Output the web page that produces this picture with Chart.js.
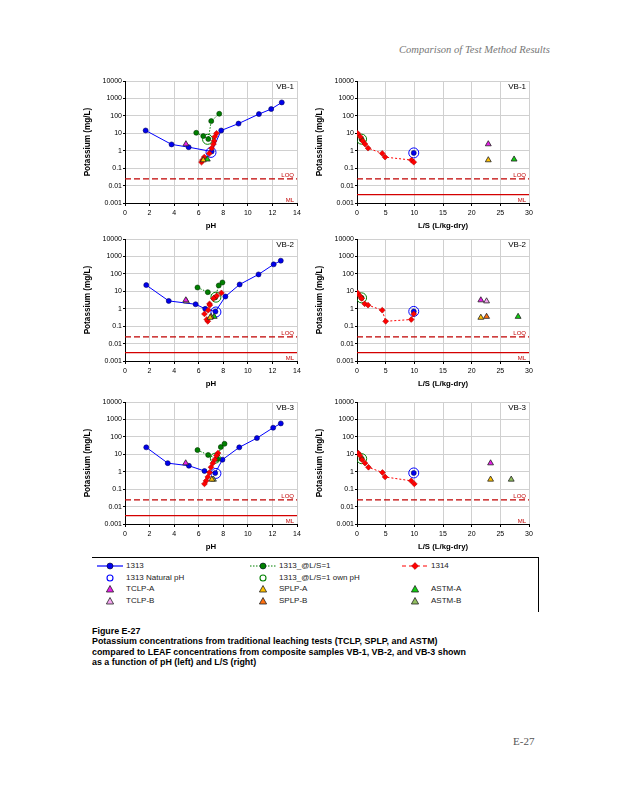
<!DOCTYPE html>
<html>
<head>
<meta charset="utf-8">
<script src="https://cdn.jsdelivr.net/npm/chart.js@4/dist/chart.umd.min.js"></script>
<style>
body { margin: 0; background: #fff; font-family: "Liberation Sans", Arial, sans-serif; }
.page { position: relative; width: 618px; height: 800px; overflow: hidden; }
canvas { position: absolute; }
.hdr { position: absolute; left: 399px; top: 44px; font: italic 10.6px "Liberation Serif", serif; color: #777; }
.leg { position: absolute; left: 92px; top: 557px; width: 446px; height: 54px; border-top: 1px solid #000; border-right: 1px solid #000; }
.li { position: absolute; font-size: 8px; color: #222; line-height: 10px; white-space: nowrap; }
.sym { position: absolute; }
.cap { position: absolute; left: 92px; top: 626px; font-weight: bold; font-size: 8.9px; line-height: 10.4px; color: #000; }
.pg { position: absolute; left: 513px; top: 735px; font: 11px "Liberation Serif", serif; color: #555; }
</style>
</head>
<body>
<div class="page">
  <div class="hdr">Comparison of Test Method Results</div>
  <canvas id="c1" width="225" height="159" style="left:80px;top:72px"></canvas>
  <canvas id="c2" width="225" height="159" style="left:312px;top:72px"></canvas>
  <canvas id="c3" width="225" height="159" style="left:80px;top:230px"></canvas>
  <canvas id="c4" width="225" height="159" style="left:312px;top:230px"></canvas>
  <canvas id="c5" width="225" height="159" style="left:80px;top:393px"></canvas>
  <canvas id="c6" width="225" height="159" style="left:312px;top:393px"></canvas>
  <div class="leg"></div>
  <div id="legend"></div>
  <div class="cap">Figure E-27<br>Potassium concentrations from traditional leaching tests (TCLP, SPLP, and ASTM)<br>compared to LEAF concentrations from composite samples VB-1, VB-2, and VB-3 shown<br>as a function of pH (left) and L/S (right)</div>
  <div class="pg">E-27</div>
</div>
<script>
// axis ticks
const yTickVals = [0.001, 0.01, 0.1, 1, 10, 100, 1000, 10000];
const yTickLabels = ['0.001', '0.01', '0.1', '1', '10', '100', '1000', '10000'];
const LOQ = 0.024, ML = 0.003;

// VB-1
const vb1_1313_pH = [1.68, 3.79, 5.18, 7.05, 7.83, 9.24, 10.9, 11.9, 12.76];
const vb1_1313_K  = [14.5, 2.3, 1.6, 0.9, 14.5, 36, 126, 245, 590];
const vb1_nat = [7.0, 0.8, 9.9, 0.75];          // pH, K, L/S, K
const vb1_ls1_pH = [5.8, 6.37, 6.78, 7.02, 7.67];
const vb1_ls1_K  = [10.7, 6.9, 4.7, 50, 132];
const vb1_own = [6.72, 4.5, 0.8, 4.6];           // pH, K, L/S, K
const vb1_1314_LS = [0.12, 0.58, 1.0, 1.4, 1.93, 4.4, 4.9, 9.5, 9.9];
const vb1_1314_pH = [7.45, 7.3, 7.26, 7.2, 7.05, 6.86, 6.45, 6.3, 6.23];
const vb1_1314_K  = [10, 6.3, 3.6, 2.4, 1.4, 0.7, 0.43, 0.29, 0.22];
const vb1_tri = ['TCLP-A', 'SPLP-A', 'ASTM-A'];
const vb1_tri_pH = [4.96, 6.37, 6.7];
const vb1_tri_LS = [22.9, 22.9, 27.4];
const vb1_tri_K  = [2.4, 0.29, 0.32];

// VB-2
const vb2_1313_pH = [1.73, 3.56, 5.75, 6.53, 7.36, 8.17, 9.33, 10.87, 12.1, 12.68];
const vb2_1313_K  = [22.6, 2.8, 1.8, 0.98, 0.69, 5, 24.6, 93, 350, 570];
const vb2_nat = [7.4, 0.65, 9.9, 0.7];
const vb2_ls1_pH = [5.9, 6.74, 7.34, 7.63, 7.93];
const vb2_ls1_K  = [16.5, 8.9, 4.4, 21.6, 32];
const vb2_own = [7.4, 4.6, 0.8, 4.2];
const vb2_1314_LS = [0.1, 0.5, 0.8, 1.34, 1.93, 4.4, 5.0, 9.46, 9.9];
const vb2_1314_pH = [7.85, 7.47, 7.2, 6.88, 6.9, 6.77, 6.74, 6.66, 6.47];
const vb2_1314_K  = [8.1, 5.5, 3.9, 1.9, 1.6, 0.82, 0.19, 0.24, 0.5];
const vb2_tri = ['TCLP-A', 'TCLP-B', 'SPLP-A', 'SPLP-B', 'ASTM-A'];
const vb2_tri_pH = [4.95, 5.0, 6.93, 7.0, 7.26];
const vb2_tri_LS = [21.6, 22.6, 21.6, 22.6, 28.1];
const vb2_tri_K  = [3.1, 2.7, 0.31, 0.35, 0.35];

// VB-3
const vb3_1313_pH = [1.73, 3.48, 5.2, 6.47, 7.34, 7.93, 9.3, 10.74, 12.06, 12.68];
const vb3_1313_K  = [25, 3.1, 2.2, 1.1, 0.84, 4.9, 25, 85, 335, 590];
const vb3_nat = [7.4, 0.8, 9.9, 0.85];
const vb3_ls1_pH = [5.9, 6.77, 7.52, 7.8, 8.1];
const vb3_ls1_K  = [17.5, 9.1, 5.3, 26, 40];
const vb3_own = [7.35, 6, 0.82, 5.6];
const vb3_1314_LS = [0.23, 0.5, 0.88, 1.4, 2.0, 4.44, 4.9, 9.46, 10];
const vb3_1314_pH = [7.57, 7.45, 7.3, 7.15, 7.0, 6.88, 6.74, 6.6, 6.47];
const vb3_1314_K  = [11.7, 8.6, 4.9, 3.1, 1.8, 0.9, 0.5, 0.3, 0.2];
const vb3_tri = ['TCLP-A', 'SPLP-A', 'ASTM-B'];
const vb3_tri_pH = [4.94, 7.07, 7.2];
const vb3_tri_LS = [23.3, 23.3, 26.9];
const vb3_tri_K  = [3.1, 0.36, 0.36];

const triColors = {
  'TCLP-A': '#e81ee8', 'TCLP-B': '#f4a6f0',
  'SPLP-A': '#ffc000', 'SPLP-B': '#ff7010',
  'ASTM-A': '#10d010', 'ASTM-B': '#92c060'
};

function zip(xs, ys) { return xs.map((x, i) => ({ x: x, y: ys[i] })); }

const labelPlugin = {
  id: 'panelLabels',
  afterDraw(chart) {
    const o = chart.options.plugins.panelLabels;
    const a = chart.chartArea, ctx = chart.ctx, y = chart.scales.y;
    ctx.save();
    ctx.font = '8px "Liberation Sans", Arial';
    const w = ctx.measureText(o.name).width;
    ctx.fillStyle = '#fff';
    ctx.fillRect(a.right - w - 6, a.top + 1, w + 5, 10);
    ctx.fillStyle = '#000';
    ctx.textAlign = 'right'; ctx.textBaseline = 'middle';
    ctx.fillText(o.name, a.right - 3, a.top + 6);
    ctx.font = '6px "Liberation Sans", Arial';
    ctx.fillStyle = '#c00000';
    ctx.fillText('LOQ', a.right - 3, y.getPixelForValue(LOQ) - 4);
    ctx.fillText('ML', a.right - 3, y.getPixelForValue(ML) + 6);
    ctx.restore();
  }
};

function makeChart(id, name, kind, s, showML) {
  const isPH = kind === 'pH';
  const xmax = isPH ? 14 : 30;
  const ds = [];
  s.tri.forEach((t, i) => {
    ds.push({ data: [{ x: isPH ? s.triPH[i] : s.triLS[i], y: s.triK[i] }],
      pointStyle: 'triangle', pointRadius: 3.4, pointBackgroundColor: triColors[t],
      pointBorderColor: '#222', pointBorderWidth: 0.8, showLine: false });
  });
  ds.push({ data: isPH ? zip(s.redPH, s.redK) : zip(s.redLS, s.redK),
    pointStyle: 'rectRot', pointRadius: 2.9, pointBackgroundColor: '#ff0000', pointBorderColor: '#b00000',
    pointBorderWidth: 0.6, showLine: !isPH, borderColor: '#ff0000', borderDash: [2, 2], borderWidth: 1 });
  ds.push({ data: [{ x: isPH ? s.own[0] : s.own[2], y: isPH ? s.own[1] : s.own[3] }],
    pointStyle: 'circle', pointRadius: 5, pointBackgroundColor: 'rgba(0,0,0,0)', pointBorderColor: '#008000',
    pointBorderWidth: 1, showLine: false });
  ds.push({ data: isPH ? zip(s.ls1PH, s.ls1K) : [{ x: s.own[2], y: s.own[3] }],
    pointStyle: 'circle', pointRadius: 2.5,
    pointBackgroundColor: '#008000', pointBorderColor: '#003000', pointBorderWidth: 0.6,
    showLine: isPH, borderColor: '#008000', borderDash: [1.5, 1.5], borderWidth: 1 });
  ds.push({ data: [{ x: isPH ? s.nat[0] : s.nat[2], y: isPH ? s.nat[1] : s.nat[3] }],
    pointStyle: 'circle', pointRadius: 5, pointBackgroundColor: 'rgba(0,0,0,0)', pointBorderColor: '#0000ff',
    pointBorderWidth: 1, showLine: false });
  ds.push({ data: isPH ? zip(s.blPH, s.blK) : [{ x: s.nat[2], y: s.nat[3] }],
    pointStyle: 'circle', pointRadius: 2.5,
    pointBackgroundColor: '#0000ee', pointBorderColor: '#000060', pointBorderWidth: 0.6,
    showLine: isPH, borderColor: '#0000ff', borderWidth: 1 });
  ds.push({ data: [{ x: 0, y: LOQ }, { x: xmax, y: LOQ }], pointRadius: 0, showLine: true,
    borderColor: '#c00000', borderWidth: 1.2, borderDash: [6, 3] });
  if (showML) {
    ds.push({ data: [{ x: 0, y: ML }, { x: xmax, y: ML }], pointRadius: 0, showLine: true,
      borderColor: '#d40000', borderWidth: 1.2 });
  }

  return new Chart(document.getElementById(id), {
    type: 'scatter',
    data: { datasets: ds },
    options: {
      responsive: false, animation: false,
      layout: { padding: { top: 9, right: 8, left: 0, bottom: 0 } },
      plugins: { legend: { display: false }, tooltip: { enabled: false }, panelLabels: { name: name } },
      scales: {
        x: {
          type: 'linear', min: 0, max: xmax,
          ticks: { stepSize: isPH ? 2 : 5, font: { size: 7, family: '"Liberation Sans", Arial' }, color: '#000', padding: 3 },
          grid: { color: '#d0d0d0', tickLength: 3, tickColor: '#000' },
          border: { color: '#000', width: 1 },
          title: { display: true, text: isPH ? 'pH' : 'L/S (L/kg-dry)', font: { size: 7.8, weight: 'bold', family: '"Liberation Sans", Arial' }, color: '#000', padding: 0 },
          afterFit(sc) { sc.height = 28; }
        },
        y: {
          type: 'logarithmic', min: 0.001, max: 10000,
          afterBuildTicks(sc) { sc.ticks = yTickVals.map(v => ({ value: v })); },
          ticks: { callback: (v) => yTickLabels[yTickVals.indexOf(v)] || '', font: { size: 7, family: '"Liberation Sans", Arial' }, color: '#000', padding: 1, autoSkip: false },
          grid: { color: '#d0d0d0', tickLength: 2, tickColor: '#000' },
          border: { color: '#000', width: 1 },
          title: { display: true, text: 'Potassium (mg/L)', font: { size: 8.2, weight: 'bold', family: '"Liberation Sans", Arial' }, color: '#000', padding: { top: 3, bottom: 2 } },
          afterFit(sc) { sc.width = 45; }
        }
      }
    },
    plugins: [labelPlugin]
  });
}

const S1 = { tri: vb1_tri, triPH: vb1_tri_pH, triLS: vb1_tri_LS, triK: vb1_tri_K,
  redPH: vb1_1314_pH, redLS: vb1_1314_LS, redK: vb1_1314_K, own: vb1_own,
  ls1PH: vb1_ls1_pH, ls1K: vb1_ls1_K, nat: vb1_nat, blPH: vb1_1313_pH, blK: vb1_1313_K };
const S2 = { tri: vb2_tri, triPH: vb2_tri_pH, triLS: vb2_tri_LS, triK: vb2_tri_K,
  redPH: vb2_1314_pH, redLS: vb2_1314_LS, redK: vb2_1314_K, own: vb2_own,
  ls1PH: vb2_ls1_pH, ls1K: vb2_ls1_K, nat: vb2_nat, blPH: vb2_1313_pH, blK: vb2_1313_K };
const S3 = { tri: vb3_tri, triPH: vb3_tri_pH, triLS: vb3_tri_LS, triK: vb3_tri_K,
  redPH: vb3_1314_pH, redLS: vb3_1314_LS, redK: vb3_1314_K, own: vb3_own,
  ls1PH: vb3_ls1_pH, ls1K: vb3_ls1_K, nat: vb3_nat, blPH: vb3_1313_pH, blK: vb3_1313_K };

makeChart('c1', 'VB-1', 'pH', S1, false);
makeChart('c2', 'VB-1', 'LS', S1, true);
makeChart('c3', 'VB-2', 'pH', S2, true);
makeChart('c4', 'VB-2', 'LS', S2, true);
makeChart('c5', 'VB-3', 'pH', S3, true);
makeChart('c6', 'VB-3', 'LS', S3, false);

// legend (HTML + small svg symbols)
const legendItems = [
  ['line', '#0000ff', 'solid', 'circle', '1313', 0, 0],
  ['line', '#008000', 'dot', 'circle', '1313_@L/S=1', 1, 0],
  ['line', '#ff0000', 'dash', 'diamond', '1314', 2, 0],
  ['open', '#0000ff', '', '', '1313 Natural pH', 0, 1],
  ['open', '#008000', '', '', '1313_@L/S=1 own pH', 1, 1],
  ['tri', triColors['TCLP-A'], '', '', 'TCLP-A', 0, 2],
  ['tri', triColors['SPLP-A'], '', '', 'SPLP-A', 1, 2],
  ['tri', triColors['ASTM-A'], '', '', 'ASTM-A', 2, 2],
  ['tri', triColors['TCLP-B'], '', '', 'TCLP-B', 0, 3],
  ['tri', triColors['SPLP-B'], '', '', 'SPLP-B', 1, 3],
  ['tri', triColors['ASTM-B'], '', '', 'ASTM-B', 2, 3]
];
const colX = [96, 249, 401];
const rowY = [566, 577.5, 589, 600.5];
const leg = document.getElementById('legend');
let html = '';
legendItems.forEach(it => {
  const [kind, col, dash, mark, text, c, r] = it;
  const x0 = colX[c], yc = rowY[r];
  let svg = '';
  if (kind === 'line') {
    const da = dash === 'dot' ? '1.5,1.5' : dash === 'dash' ? '4,3' : 'none';
    svg += '<line x1="1" y1="5" x2="27" y2="5" stroke="' + col + '" stroke-width="1.2" stroke-dasharray="' + da + '"/>';
    if (mark === 'circle') svg += '<circle cx="14" cy="5" r="3" fill="' + (col === '#0000ff' ? '#0000ee' : col) + '" stroke="#002" stroke-width="0.6"/>';
    else svg += '<polygon points="14,1.6 17.4,5 14,8.4 10.6,5" fill="#ff0000" stroke="#b00000" stroke-width="0.6"/>';
  } else if (kind === 'open') {
    svg += '<circle cx="14" cy="5" r="3" fill="none" stroke="' + col + '" stroke-width="1.1"/>';
  } else {
    svg += '<polygon points="14,1.5 17.6,8 10.4,8" fill="' + col + '" stroke="#222" stroke-width="0.8"/>';
  }
  html += '<svg class="sym" width="28" height="10" style="left:' + x0 + 'px;top:' + (yc - 5) + 'px">' + svg + '</svg>';
  html += '<div class="li" style="left:' + (x0 + 30) + 'px;top:' + (yc - 5) + 'px">' + text + '</div>';
});
leg.innerHTML = html;
</script>
</body>
</html>
